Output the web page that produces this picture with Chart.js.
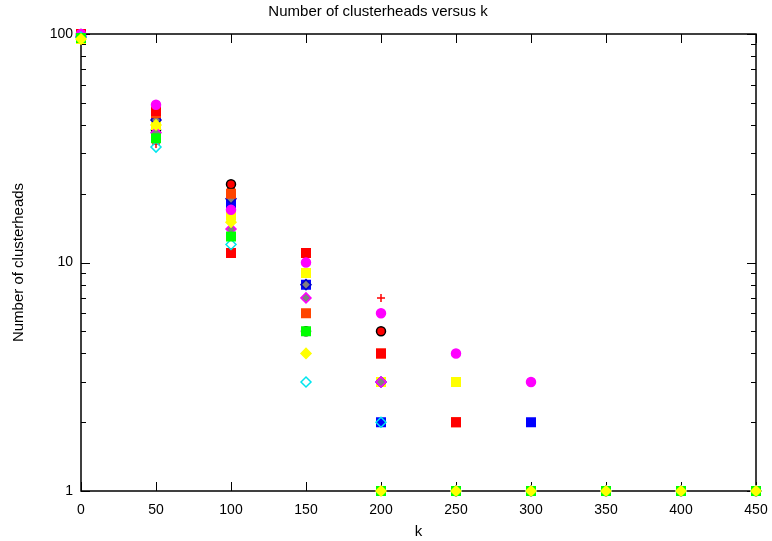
<!DOCTYPE html>
<html>
<head>
<meta charset="UTF-8">
<script src="https://cdn.jsdelivr.net/npm/chart.js"></script>
<style>
  body { margin: 0; background: #fff; }
  #wrap { width: 772px; height: 541px; }
</style>
</head>
<body>
<div id="wrap"><canvas id="c"></canvas></div>
<script>
// k values on the x axis
const kValues = [0, 50, 100, 150, 200, 250, 300, 350, 400, 450];
const xTicks = [0, 50, 100, 150, 200, 250, 300, 350, 400, 450];
const yTicks = [1, 10, 100];

// number of clusterheads, one list per run
const runMagenta  = [100, 49, 17, 10, 6, 4, 3, 1, 1, 1];
const runRed      = [100, 46, 11, 11, 4, 2, 1, 1, 1, 1];
const runBlue     = [98, 44, 18, 8, 2, 1, 2, 1, 1, 1];
const runGray     = [97, 42, 19, 8, 3, 1, 1, 1, 1, 1];
const runYellow   = [95, 40, 16, 9, 3, 3, 1, 1, 1, 1];
const runBlack    = [100, 38, 22, 5, 5, 1, 1, 1, 1, 1];
const runPlus     = [100, 33, 21, 7, 7, 1, 1, 1, 1, 1];
const runOrange   = [99, 45, 20, 6, 4, 2, 1, 1, 1, 1];
const runGreen    = [96, 35, 13, 5, 1, 1, 1, 1, 1, 1];
const runYDiamond = [95, 40, 15, 4, 1, 1, 1, 1, 1, 1];
const runCyan     = [97, 32, 12, 3, 2, 1, 1, 1, 1, 1];
const runMDiamond = [98, 37, 14, 7, 3, 1, 1, 1, 1, 1];

function pts(vals) { return vals.map((v, i) => ({ x: kValues[i], y: v })); }

// first entry is drawn on top
const series = [
  { data: runYDiamond, color: '#ffff00', style: 'rectRot', fill: '#ffff00', r: 5 },
  { data: runGreen, color: '#00ff00', style: 'rect', fill: '#00ff00', r: 6 },
  { data: runCyan, color: '#00e5ee', style: 'rectRot', fill: 'rgba(0,0,0,0)', r: 5 },
  { data: runMagenta, color: '#ff00ff', style: 'circle', fill: '#ff00ff', r: 4.5 },
  { data: runRed, color: '#ff0000', style: 'rect', fill: '#ff0000', r: 6 },
  { data: runMDiamond, color: '#ff00ff', style: 'rectRot', fill: '#808080', r: 5 },
  { data: runOrange, color: '#ff4500', style: 'rect', fill: '#ff4500', r: 6 },
  { data: runGray, color: '#0000cc', style: 'rectRot', fill: '#808080', r: 5 },
  { data: runBlue, color: '#0000ff', style: 'rect', fill: '#0000ff', r: 6 },
  { data: runYellow, color: '#ffff00', style: 'rect', fill: '#ffff00', r: 6 },
  { data: runBlack, color: '#000000', style: 'circle', fill: '#ff0000', r: 4.5 },
  { data: runPlus, color: '#ff0000', style: 'cross', fill: '#ff0000', r: 4 }
];

// gnuplot style frame with inward ticks on every side
const frame = {
  id: 'frame',
  beforeDatasetsDraw(chart) {
    const { ctx, chartArea: a, scales } = chart;
    ctx.save();
    ctx.strokeStyle = '#000';
    ctx.lineWidth = 1;
    ctx.beginPath();
    xTicks.forEach(v => {
      const x = Math.round(scales.x.getPixelForValue(v)) + 0.5;
      ctx.moveTo(x, a.bottom); ctx.lineTo(x, a.bottom - 9);
      ctx.moveTo(x, a.top); ctx.lineTo(x, a.top + 9);
    });
    for (let d = 1; d <= 100; d *= 10) {
      for (let m = 1; m <= 9; m++) {
        const v = d * m;
        if (v > 100) break;
        const len = m === 1 ? 9 : 5;
        const y = Math.round(scales.y.getPixelForValue(v)) + 0.5;
        ctx.moveTo(a.left, y); ctx.lineTo(a.left + len, y);
        ctx.moveTo(a.right, y); ctx.lineTo(a.right - len, y);
      }
    }
    ctx.stroke();
    ctx.lineWidth = 1.5;
    ctx.strokeRect(a.left, a.top, a.right - a.left, a.bottom - a.top);
    ctx.restore();
  }
};

new Chart(document.getElementById('c'), {
  type: 'scatter',
  data: {
    datasets: series.map((s, i) => ({
      label: 'run ' + (i + 1),
      data: pts(s.data),
      clip: false,
      pointStyle: s.style,
      pointRadius: s.r,
      pointBorderColor: s.color,
      pointBackgroundColor: s.fill,
      pointBorderWidth: 1.5,
      pointHoverRadius: s.r
    }))
  },
  options: {
    responsive: true,
    maintainAspectRatio: false,
    animation: false,
    layout: { padding: { left: 0, right: 16, top: 0, bottom: 0 } },
    plugins: {
      legend: { display: false },
      tooltip: { enabled: false },
      title: {
        display: true,
        text: 'Number of clusterheads versus k',
        color: '#000',
        font: { family: 'Liberation Sans', size: 15, weight: 'normal' },
        padding: { top: 3, bottom: 13 }
      }
    },
    scales: {
      x: {
        type: 'linear',
        min: 0, max: 450,
        afterBuildTicks: s => { s.ticks = xTicks.map(v => ({ value: v })); },
        afterFit: s => { s.height = 50; },
        grid: { display: false },
        border: { display: false },
        ticks: { color: '#000', font: { family: 'Liberation Sans', size: 14 }, padding: 3, maxRotation: 0 },
        title: { display: true, text: 'k', color: '#000', font: { family: 'Liberation Sans', size: 15 }, padding: { top: 0, bottom: 0 } }
      },
      y: {
        type: 'logarithmic',
        min: 1, max: 100,
        afterBuildTicks: s => { s.ticks = yTicks.map(v => ({ value: v })); },
        afterFit: s => { s.width = 81; },
        grid: { display: false },
        border: { display: false },
        ticks: { color: '#000', font: { family: 'Liberation Sans', size: 14 }, padding: 0, callback: v => String(v) },
        title: { display: true, text: 'Number of clusterheads', color: '#000', font: { family: 'Liberation Sans', size: 15 }, padding: { top: 10, bottom: 4 } }
      }
    }
  },
  plugins: [frame]
});
</script>
</body>
</html>
